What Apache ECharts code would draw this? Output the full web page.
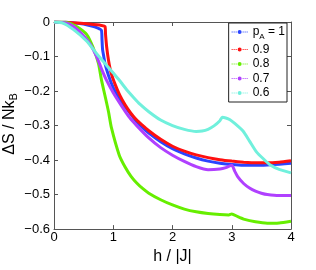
<!DOCTYPE html>
<html><head><meta charset="utf-8">
<script src="https://cdn.jsdelivr.net/npm/echarts@6/dist/echarts.min.js"></script>
<style>html,body{margin:0;padding:0;background:#fff}#c{width:316px;height:270px}</style>
</head><body><div id="c"></div>
<script>
// data (h/|J| vs ΔS/NkB)
const hBlue = [0,0.2,0.4,0.6,0.7,0.8,0.81,0.82,0.84,0.86,0.92,1.0,1.11,1.25,1.4,1.5,1.6,1.8,2.0,2.2,2.4,2.6,2.8,3.0,3.2,3.4,3.6,3.8,4.0];
const vBlue = [0,-0.001,-0.004,-0.01,-0.015,-0.024,-0.05,-0.08,-0.1,-0.12,-0.155,-0.19,-0.224,-0.257,-0.29,-0.307,-0.322,-0.347,-0.367,-0.382,-0.394,-0.403,-0.409,-0.413,-0.415,-0.415,-0.414,-0.412,-0.409];
const hRed = [0,0.2,0.4,0.6,0.8,0.86,0.87,0.89,0.92,0.96,1.03,1.11,1.2,1.3,1.4,1.5,1.6,1.8,2.0,2.2,2.4,2.6,2.8,3.0,3.2,3.4,3.6,3.8,4.0];
const vRed = [0,-0.001,-0.003,-0.006,-0.01,-0.013,-0.036,-0.074,-0.111,-0.145,-0.18,-0.212,-0.24,-0.265,-0.285,-0.3,-0.315,-0.34,-0.36,-0.374,-0.385,-0.393,-0.399,-0.403,-0.406,-0.408,-0.408,-0.406,-0.402];
const hGreen = [0,0.2,0.38,0.55,0.66,0.75,0.8,0.86,0.92,0.97,1.1,1.2,1.3,1.4,1.5,1.6,1.8,2.0,2.2,2.4,2.6,2.8,2.95,3.0,3.1,3.2,3.4,3.6,3.8,4.0];
const vGreen = [0,-0.001,-0.013,-0.036,-0.074,-0.12,-0.167,-0.213,-0.26,-0.307,-0.385,-0.42,-0.447,-0.467,-0.483,-0.496,-0.515,-0.53,-0.542,-0.55,-0.555,-0.558,-0.559,-0.556,-0.564,-0.571,-0.579,-0.583,-0.582,-0.577];
const hPurple = [0,0.2,0.33,0.5,0.61,0.72,0.8,0.89,1.0,1.14,1.28,1.4,1.6,1.8,2.0,2.2,2.4,2.6,2.8,2.9,3.0,3.05,3.1,3.2,3.3,3.4,3.5,3.6,3.8,4.0];
const vPurple = [0,-0.003,-0.013,-0.04,-0.064,-0.1,-0.135,-0.17,-0.205,-0.243,-0.278,-0.301,-0.336,-0.364,-0.386,-0.404,-0.419,-0.428,-0.426,-0.422,-0.415,-0.432,-0.448,-0.468,-0.481,-0.49,-0.496,-0.5,-0.503,-0.503];
const hCyan = [0,0.15,0.33,0.55,0.72,0.86,1.0,1.1,1.23,1.35,1.45,1.6,1.8,2.0,2.2,2.4,2.5,2.6,2.7,2.8,2.84,2.9,2.97,3.05,3.19,3.3,3.42,3.55,3.65,3.8,4.0];
const vCyan = [0,-0.003,-0.022,-0.055,-0.092,-0.12,-0.148,-0.168,-0.197,-0.22,-0.238,-0.26,-0.284,-0.3,-0.311,-0.317,-0.316,-0.311,-0.301,-0.286,-0.276,-0.278,-0.283,-0.294,-0.316,-0.345,-0.377,-0.399,-0.414,-0.427,-0.437];
const seriesNames = ['p_A = 1','0.9','0.8','0.7','0.6'];
const colors = ['#2a44ff','#ff1010','#66ee00','#b040ff','#70f0dc'];
const xTicks = [0,1,2,3,4];
const yTicks = [0,-0.1,-0.2,-0.3,-0.4,-0.5,-0.6];

const hs = [hBlue,hRed,hGreen,hPurple,hCyan];
const vs = [vBlue,vRed,vGreen,vPurple,vCyan];
const axisCol = '#555';
const FONT = 'Liberation Sans, Arial, Helvetica, sans-serif';
const chart = echarts.init(document.getElementById('c'), null, {renderer:'canvas'});
const icon = 'path://M0,1.5h1v1h-1z M2,1.5h1v1h-1z M4,1.5h1v1h-1z M6,2a2,2 0 1,0 4,0a2,2 0 1,0 -4,0z M11,1.5h1v1h-1z M13,1.5h1v1h-1z M15,1.5h1v1h-1z';
function fmtY(v){ if (Math.abs(v)<1e-9) return '0'; return (v<0?'\u2212':'') + Math.abs(v).toFixed(1); }
const axisCommon = {
  axisLine:{show:true,onZero:false,lineStyle:{color:axisCol,width:1}},
  axisTick:{show:true,inside:true,length:4,lineStyle:{color:axisCol}},
  splitLine:{show:false}
};
const option = {
  animation:false,
  textStyle:{fontFamily:FONT},
  grid:{left:54,right:25,top:22,bottom:33,containLabel:false},
  legend:{
    orient:'vertical', right:29, top:23,
    backgroundColor:'#fff', borderColor:'#222', borderWidth:1,
    padding:[3,2,3,3], itemGap:2.5, itemWidth:16, itemHeight:4,
    icon: icon,
    data: seriesNames,
    formatter: n => n==='p_A = 1' ? '{b|p}{s|A}{b| = 1}' : '{a|'+n+'}',
    textStyle:{color:'#000',fontFamily:FONT,rich:{
      a:{fontSize:12,lineHeight:15,fontFamily:FONT,color:'#000'},
      b:{fontSize:12,lineHeight:18,fontFamily:FONT,color:'#000'},
      s:{fontSize:8,lineHeight:18,fontFamily:FONT,color:'#000',verticalAlign:'bottom',padding:[7,0,0,0]}
    }}
  },
  graphic:[{
    type:'text', x:10, y:124, rotation:Math.PI/2,
    style:{text:'{a|\u0394S / Nk}{s|B}', align:'center', verticalAlign:'middle',
      rich:{
        a:{fontSize:16,fontFamily:FONT,fill:'#000',lineHeight:18},
        s:{fontSize:11,fontFamily:FONT,fill:'#000',lineHeight:18,verticalAlign:'bottom',padding:[8,0,0,0]}
      }}
  }],
  xAxis:[
    Object.assign({type:'value',min:0,max:4,interval:1,position:'bottom',
      name:'h / |J|',nameLocation:'middle',nameGap:19,
      nameTextStyle:{fontSize:16,color:'#000',fontFamily:FONT},
      axisLabel:{margin:2,fontSize:13,color:'#000',fontFamily:FONT}},axisCommon),
    Object.assign({type:'value',min:0,max:4,interval:1,position:'top',
      axisLabel:{show:false}},axisCommon)
  ],
  yAxis:[
    Object.assign({type:'value',min:-0.6,max:0,interval:0.1,position:'left',
      axisLabel:{margin:4,fontSize:13,color:'#000',fontFamily:FONT,formatter:fmtY}},axisCommon),
    Object.assign({type:'value',min:-0.6,max:0,interval:0.1,position:'right',
      axisLabel:{show:false}},axisCommon)
  ],
  series: seriesNames.map((n,i)=>({
    name:n, type:'line', xAxisIndex:0, yAxisIndex:0,
    data: hs[i].map((h,j)=>[h,vs[i][j]]),
    showSymbol:false, symbol:'circle', symbolSize:4,
    smooth:0.2,
    itemStyle:{color:colors[i]},
    lineStyle:{color:colors[i],width:3},
    z:2+i
  }))
};
chart.setOption(option);
</script></body></html>
